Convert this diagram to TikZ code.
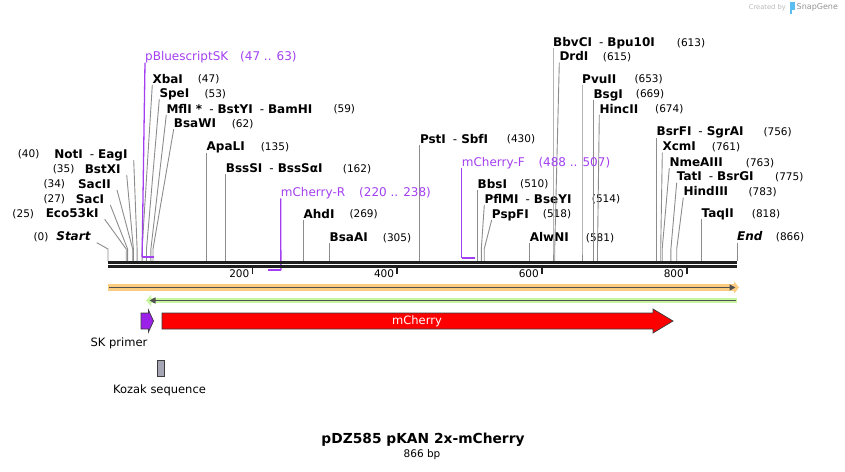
\documentclass[tikz,border=0pt]{standalone}
\usepackage{fontspec}
\setmainfont{DejaVu Sans}
\usepackage{tikz}
\usetikzlibrary{arrows.meta}
\definecolor{primer}{RGB}{163,63,240}
\definecolor{skfill}{RGB}{155,32,232}
\definecolor{leadgray}{RGB}{140,140,140}
\definecolor{orband}{RGB}{252,204,128}
\definecolor{grband}{RGB}{200,245,160}
\definecolor{darkln}{RGB}{80,80,80}
\definecolor{kozak}{RGB}{165,165,180}
\definecolor{outl}{RGB}{60,60,60}
\definecolor{sglogo}{RGB}{90,190,240}
\newcommand{\dsh}{\hspace{7pt}{\mdseries -}\hspace{4pt}}

\begin{document}
\begin{tikzpicture}[x=1pt, y=-1pt,
    enz/.style={font=\fontsize{12}{14}\selectfont\bfseries, inner sep=0pt, text height=10pt, text depth=1.5pt, anchor=west},
    lenz/.style={enz, inner xsep=6pt, anchor=east},
    num/.style={font=\fontsize{10.5}{12}\selectfont, inner sep=0pt, text height=9pt, text depth=1.5pt, anchor=west},
    prim/.style={font=\fontsize{12}{14}\selectfont, text=primer, inner sep=0pt, text height=10pt, text depth=1.5pt, anchor=west},
    lead/.style={draw=leadgray, line width=0.9pt},
    plead/.style={draw=primer, line width=1.3pt},
    pbar/.style={draw=primer, line width=2.4pt},
    feat/.style={font=\fontsize{11.5}{13}\selectfont}]

    \useasboundingbox (0, 0) rectangle (845, 471);

    % sites on the backbone
    \coordinate (sstart) at (108, 249);
    \coordinate (seco) at (126.2, 249);
    \coordinate (ssac1) at (127.6, 249);
    \coordinate (ssac2) at (132.7, 249);
    \coordinate (sbstx) at (133.4, 249);
    \coordinate (snot) at (137.1, 249);
    \coordinate (sxba) at (142.1, 249);
    \coordinate (sspe) at (146.5, 249);
    \coordinate (smfl) at (150.9, 249);
    \coordinate (sbsaw) at (153.0, 249);
    \coordinate (sapal) at (206.5, 249);
    \coordinate (sbsss) at (225.7, 249);
    \coordinate (sahd) at (303.4, 249);
    \coordinate (sbsaa) at (329.5, 249);
    \coordinate (spst) at (419.8, 249);
    \coordinate (sbbs) at (477.5, 249);
    \coordinate (spfl) at (481.3, 249);
    \coordinate (spsp) at (484.2, 249);
    \coordinate (salw) at (529.6, 249);
    \coordinate (sbbv) at (553, 249);
    \coordinate (sdrd) at (554.7, 249);
    \coordinate (spvu) at (582, 249);
    \coordinate (sbsg) at (593.3, 249);
    \coordinate (shinc) at (597.5, 249);
    \coordinate (sbsrf) at (656.4, 249);
    \coordinate (sxcm) at (660.7, 249);
    \coordinate (snme) at (662.2, 249);
    \coordinate (stat) at (670.9, 249);
    \coordinate (shind) at (676.7, 249);
    \coordinate (staq) at (701.4, 249);
    \coordinate (send) at (737, 249);

    % enzymes, left side
    \node [num] (startn) at (33.3, 236.7) {(0)};
    \node [lenz] (start) at (96.7, 236.7) {\itshape Start};
    \node [num] (econ) at (12.3, 213.3) {(25)};
    \node [lenz] (eco) at (104.7, 213.3) {Eco53kI};
    \node [num] (sac1n) at (43.3, 199) {(27)};
    \node [lenz] (sac1) at (110.3, 199) {SacI};
    \node [num] (sac2n) at (43.3, 184) {(34)};
    \node [lenz] (sac2) at (117, 184) {SacII};
    \node [num] (bstxn) at (52.7, 169) {(35)};
    \node [lenz] (bstx) at (126.7, 169) {BstXI};
    \node [num] (notn) at (17.7, 154) {(40)};
    \node [lenz] (not) at (133.7, 154) {NotI\dsh{}EagI};

    % enzymes, right side
    \node [enz] (xba) at (152.3, 79) {XbaI};
    \node [num] (xban) at (197.7, 79) {(47)};
    \node [enz] (spe) at (159.3, 93.3) {SpeI};
    \node [num] (spen) at (204.3, 93.3) {(53)};
    \node [enz] (mfl) at (166.3, 109) {MflI *\dsh{}BstYI\dsh{}BamHI};
    \node [num] (mfln) at (333.3, 109) {(59)};
    \node [enz] (bsaw) at (173.7, 123.3) {BsaWI};
    \node [num] (bsawn) at (231.7, 123.3) {(62)};
    \node [enz] (apal) at (206.5, 146.7) {ApaLI};
    \node [num] (apaln) at (260.7, 146.7) {(135)};
    \node [enz] (bsss) at (225.7, 168.3) {BssSI\dsh{}BssSαI};
    \node [num] (bsssn) at (342.7, 168.3) {(162)};
    \node [enz] (ahd) at (303.4, 214) {AhdI};
    \node [num] (ahdn) at (349.3, 214) {(269)};
    \node [enz] (bsaa) at (329.5, 237.3) {BsaAI};
    \node [num] (bsaan) at (382.7, 237.3) {(305)};
    \node [enz] (pst) at (419.8, 139) {PstI\dsh{}SbfI};
    \node [num] (pstn) at (506.7, 139) {(430)};
    \node [enz] (bbs) at (477.5, 184) {BbsI};
    \node [num] (bbsn) at (520, 184) {(510)};
    \node [enz] (pfl) at (484.3, 199) {PflMI\dsh{}BseYI};
    \node [num] (pfln) at (591.7, 199) {(514)};
    \node [enz] (psp) at (491.7, 214) {PspFI};
    \node [num] (pspn) at (542.7, 214) {(518)};
    \node [enz] (alw) at (529.6, 237.3) {AlwNI};
    \node [num] (alwn) at (585.7, 237.3) {(581)};
    \node [enz] (bbv) at (553, 42.3) {BbvCI\dsh{}Bpu10I};
    \node [num] (bbvn) at (676.7, 42.3) {(613)};
    \node [enz] (drd) at (559.3, 56.7) {DrdI};
    \node [num] (drdn) at (602.7, 56.7) {(615)};
    \node [enz] (pvu) at (582, 79) {PvuII};
    \node [num] (pvun) at (634.3, 79) {(653)};
    \node [enz] (bsg) at (593.3, 94) {BsgI};
    \node [num] (bsgn) at (635.7, 94) {(669)};
    \node [enz] (hinc) at (599.3, 109) {HincII};
    \node [num] (hincn) at (655, 109) {(674)};
    \node [enz] (bsrf) at (656.4, 131.7) {BsrFI\dsh{}SgrAI};
    \node [num] (bsrfn) at (763.3, 131.7) {(756)};
    \node [enz] (xcm) at (662.3, 146.7) {XcmI};
    \node [num] (xcmn) at (711.7, 146.7) {(761)};
    \node [enz] (nme) at (669.3, 162.3) {NmeAIII};
    \node [num] (nmen) at (745.7, 162.3) {(763)};
    \node [enz] (tat) at (676.7, 176.7) {TatI\dsh{}BsrGI};
    \node [num] (tatn) at (775, 176.7) {(775)};
    \node [enz] (hind) at (683.3, 191.7) {HindIII};
    \node [num] (hindn) at (748.3, 191.7) {(783)};
    \node [enz] (taq) at (701.4, 213.3) {TaqII};
    \node [num] (taqn) at (751.7, 213.3) {(818)};
    \node [enz] (end) at (737, 236.7) {\itshape End};
    \node [num] (endn) at (775.7, 236.7) {(866)};

    % leaders
    \draw [lead] (start.south east) -- (sstart) -- ++(0, 12);
    \draw [lead] (eco.south east) -- (seco) -- ++(0, 12);
    \draw [lead] (sac1.south east) -- (ssac1) -- ++(0, 12);
    \draw [lead] (sac2.south east) -- (ssac2) -- ++(0, 12);
    \draw [lead] (bstx.south east) -- (sbstx) -- ++(0, 12);
    \draw [lead] (not.south east) -- (snot) -- ++(0, 12);
    \draw [lead] (xba.south west) -- (sxba) -- ++(0, 12);
    \draw [lead] (spe.south west) -- (sspe) -- ++(0, 12);
    \draw [lead] (mfl.south west) -- (smfl) -- ++(0, 12);
    \draw [lead] (bsaw.south west) -- (sbsaw) -- ++(0, 12);
    \draw [lead] (apal.south west) -- (sapal) -- ++(0, 12);
    \draw [lead] (bsss.south west) -- (sbsss) -- ++(0, 12);
    \draw [lead] (ahd.south west) -- (sahd) -- ++(0, 12);
    \draw [lead] (bsaa.south west) -- (sbsaa) -- ++(0, 12);
    \draw [lead] (pst.south west) -- (spst) -- ++(0, 12);
    \draw [lead] (bbs.south west) -- (sbbs) -- ++(0, 12);
    \draw [lead] (pfl.south west) -- (spfl) -- ++(0, 12);
    \draw [lead] (psp.south west) -- (spsp) -- ++(0, 12);
    \draw [lead] (alw.south west) -- (salw) -- ++(0, 12);
    \draw [lead] (bbv.south west) -- (sbbv) -- ++(0, 12);
    \draw [lead] (drd.south west) -- (sdrd) -- ++(0, 12);
    \draw [lead] (pvu.south west) -- (spvu) -- ++(0, 12);
    \draw [lead] (bsg.south west) -- (sbsg) -- ++(0, 12);
    \draw [lead] (hinc.south west) -- (shinc) -- ++(0, 12);
    \draw [lead] (bsrf.south west) -- (sbsrf) -- ++(0, 12);
    \draw [lead] (xcm.south west) -- (sxcm) -- ++(0, 12);
    \draw [lead] (nme.south west) -- (snme) -- ++(0, 12);
    \draw [lead] (tat.south west) -- (stat) -- ++(0, 12);
    \draw [lead] (hind.south west) -- (shind) -- ++(0, 12);
    \draw [lead] (taq.south west) -- (staq) -- ++(0, 12);
    \draw [lead] (end.south west) -- (send) -- ++(0, 12);

    % primers
    \node [prim] (pbs) at (145, 56.7) {pBluescriptSK};
    \node [prim] (pbsn) at (240, 56.7) {(47 .. 63)};
    \node [prim] (mcr) at (280.7, 192.3) {mCherry-R};
    \node [prim] (mcrn) at (359, 192.3) {(220 .. 238)};
    \node [prim] (mcf) at (461.7, 162.3) {mCherry-F};
    \node [prim] (mcfn) at (538.3, 162.3) {(488 .. 507)};
    \coordinate (pbsa) at (142.1, 257);
    \coordinate (pbsb) at (153.8, 257);
    \coordinate (mcra) at (280.9, 270);
    \coordinate (mcrb) at (267.8, 270);
    \coordinate (mcfa) at (461.7, 257.7);
    \coordinate (mcfb) at (475.2, 257.7);
    \draw [plead] (pbs.south west) -- (pbsa);
    \draw [pbar] (pbsa) -- (pbsb);
    \draw [plead] (mcr.south west) -- (mcra);
    \draw [pbar] (mcra) -- (mcrb);
    \draw [plead] (mcf.south west) -- (mcfa);
    \draw [pbar] (mcfa) -- (mcfb);

    % backbone and ticks
    \coordinate (bba) at (108, 262.3);
    \coordinate (bbb) at (737, 262.3);
    \coordinate (bbc) at (108, 266.3);
    \coordinate (bbd) at (737, 266.3);
    \draw [line width=3.3pt, black!88] (bba) -- (bbb);
    \draw [line width=2.6pt, black!88] (bbc) -- (bbd);
    \coordinate (t200) at (252.5, 266);
    \coordinate (t400) at (397.3, 266);
    \coordinate (t600) at (542, 266);
    \coordinate (t800) at (687, 266);
    \draw [line width=1.7pt, black!88] (t200) -- ++(0, 8);
    \draw [line width=1.7pt, black!88] (t400) -- ++(0, 8);
    \draw [line width=1.7pt, black!88] (t600) -- ++(0, 8);
    \draw [line width=1.7pt, black!88] (t800) -- ++(0, 8);
    \node [num, anchor=east] (l200) at (249.5, 273.5) {200};
    \node [num, anchor=east] (l400) at (394.3, 273.5) {400};
    \node [num, anchor=east] (l600) at (539, 273.5) {600};
    \node [num, anchor=east] (l800) at (684, 273.5) {800};

    % orange and green bars
    \coordinate (ora) at (108, 287.5);
    \coordinate (orb) at (739, 287.5);
    \coordinate (gra) at (737, 300.5);
    \coordinate (grb) at (146, 300.5);
    \draw [line width=6.5pt, orband, -{Triangle[length=5pt, width=12pt]}] (ora) -- (orb);
    \draw [line width=1.8pt, darkln, -{Triangle[length=6pt, width=6pt]}] (ora) ++(1, 0) -- (735.5, 287.5);
    \draw [line width=5.5pt, grband, -{Triangle[length=5pt, width=11pt]}] (gra) -- (grb);
    \draw [line width=1.8pt, darkln, -{Triangle[length=6pt, width=6pt]}] (gra) ++(-1, 0) -- (149.5, 300.5);

    % features
    \draw [fill=skfill, draw=outl, line width=0.7pt] (141, 313) -- (148.5, 313) -- (148.5, 310)
        -- (153.5, 321) -- (148.5, 332) -- (148.5, 329) -- (141, 329) -- cycle;
    \node [feat] (skp) at (119, 343) {SK primer};
    \draw [fill=red, draw=outl, line width=0.7pt] (162, 313) -- (653, 313) -- (653, 309)
        -- (673, 321) -- (653, 333) -- (653, 329) -- (162, 329) -- cycle;
    \node [feat, text=white] (mch) at (417, 321) {mCherry};
    \node [draw=outl, fill=kozak, line width=0.7pt, minimum width=7pt, minimum height=16pt, inner sep=0pt] (koz) at (160.5, 368) {};
    \node [feat] (kozl) at (159.5, 390) {Kozak sequence};

    % title
    \node [font=\fontsize{13.8}{16}\selectfont\bfseries] (ttl) at (423, 440) {pDZ585 pKAN 2x-mCherry};
    \node [font=\fontsize{10.5}{12}\selectfont] (len) at (422, 454.5) {866 bp};

    % stamp
    \node [font=\fontsize{6.7}{8}\selectfont, text=black!28, anchor=east, inner sep=0pt] (crb) at (786, 7.5) {Created by};
    \fill [sglogo] (789.5, 2) rectangle (794.5, 9.5);
    \fill [sglogo] (789.5, 9.5) rectangle (791.5, 13.5);
    \node [font=\fontsize{8}{10}\selectfont, text=black!42, anchor=west, inner sep=0pt] (sgn) at (796.5, 7.5) {SnapGene};

\end{tikzpicture}
\end{document}
